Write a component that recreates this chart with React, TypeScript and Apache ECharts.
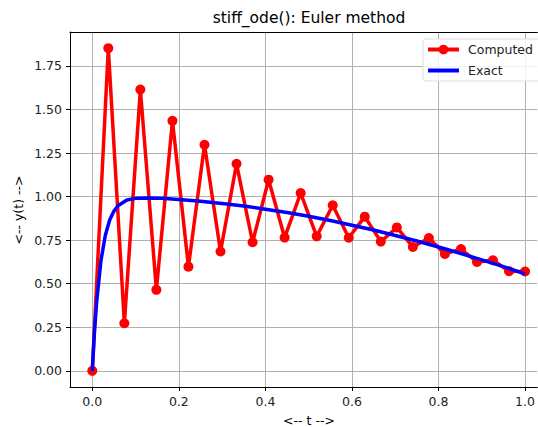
import React, { useEffect, useRef } from "react";
import * as echarts from "echarts";

const titleText = "stiff_ode(): Euler method";
const xLabel = "<-- t -->";
const yLabel = "<-- y(t) -->";
const xTicks = [0, 0.2, 0.4, 0.6, 0.8, 1.0];
const yTicks = [0, 0.25, 0.5, 0.75, 1.0, 1.25, 1.5, 1.75];

const tComputed = [
  0.0, 0.037, 0.0741, 0.1111, 0.1481, 0.1852, 0.2222, 0.2593, 0.2963, 0.3333,
  0.3704, 0.4074, 0.4444, 0.4815, 0.5185, 0.5556, 0.5926, 0.6296, 0.6667, 0.7037,
  0.7407, 0.7778, 0.8148, 0.8519, 0.8889, 0.9259, 0.963, 1.0,
];
const yComputed = [
  0.0, 1.852, 0.273, 1.614, 0.465, 1.435, 0.598, 1.297, 0.685, 1.188,
  0.738, 1.097, 0.765, 1.02, 0.772, 0.95, 0.764, 0.885, 0.742, 0.823,
  0.711, 0.762, 0.671, 0.699, 0.625, 0.635, 0.572, 0.57,
];

const tExact = [
  0, 0.005, 0.01, 0.02, 0.03, 0.04, 0.05, 0.06, 0.08, 0.1, 0.13, 0.16, 0.2,
  0.25, 0.3, 0.35, 0.4, 0.45, 0.5, 0.55, 0.6, 0.65, 0.7, 0.75, 0.8, 0.85, 0.9,
  0.95, 1.0,
];
const yExact = [
  0, 0.221, 0.393, 0.632, 0.777, 0.864, 0.917, 0.949, 0.98, 0.99, 0.992, 0.99,
  0.984, 0.973, 0.961, 0.946, 0.928, 0.909, 0.887, 0.863, 0.836, 0.808, 0.777,
  0.745, 0.711, 0.675, 0.637, 0.598, 0.557,
];

const FONT = "DejaVu Sans";
const X_MIN = -0.0515;
const X_MAX = 1.0284;

export default function App() {
  const ref = useRef<HTMLDivElement>(null);
  useEffect(() => {
    if (!ref.current) return;
    const chart = echarts.init(ref.current, null, { renderer: "svg" });
    chart.setOption({
      animation: false,
      backgroundColor: "#ffffff",
      textStyle: { fontFamily: FONT },
      grid: {
        left: 70,
        top: 32,
        right: 0,
        bottom: 40,
        show: false,
      },
      xAxis: [
        {
          type: "value",
          min: X_MIN,
          max: X_MAX,
          axisLine: { show: true, onZero: false, lineStyle: { color: "#000", width: 1 } },
          axisTick: {
            show: true,
            length: 4,
            inside: false,
            lineStyle: { color: "#000" },
            customValues: xTicks,
          },
          axisLabel: {
            color: "#222",
            fontSize: 12.5,
            fontFamily: FONT,
            margin: 8,
            customValues: xTicks,
            formatter: (v: number) => v.toFixed(1),
          },
          splitLine: { show: true, lineStyle: { color: "#b0b0b0", width: 1 } },
        },
        {
          type: "value",
          position: "top",
          min: X_MIN,
          max: X_MAX,
          axisLine: { show: true, onZero: false, lineStyle: { color: "#000", width: 1 } },
          axisTick: { show: false },
          axisLabel: { show: false },
          splitLine: { show: false },
        },
      ],
      yAxis: {
        type: "value",
        min: -0.0926,
        max: 1.9446,
        axisLine: { show: true, onZero: false, lineStyle: { color: "#000", width: 1 } },
        axisTick: {
          show: true,
          length: 4,
          inside: false,
          lineStyle: { color: "#000" },
          customValues: yTicks,
        },
        axisLabel: {
          color: "#222",
          fontSize: 12.5,
          fontFamily: FONT,
          margin: 8,
          customValues: yTicks,
          formatter: (v: number) => v.toFixed(2),
        },
        splitLine: { show: true, lineStyle: { color: "#b0b0b0", width: 1 } },
      },
      legend: {
        left: 423,
        top: 39,
        orient: "vertical",
        backgroundColor: "rgba(255,255,255,0.8)",
        borderColor: "#dddddd",
        borderWidth: 1,
        borderRadius: 3,
        padding: [4, 30, 4, 3],
        itemGap: 8,
        itemWidth: 31,
        itemHeight: 12,
        textStyle: { fontSize: 12.5, fontFamily: FONT, color: "#222", padding: [0, 0, 0, 4] },
        data: [
          { name: "Computed", lineStyle: { width: 4 } },
          { name: "Exact", itemStyle: { opacity: 0 }, lineStyle: { width: 4 } },
        ],
      },
      graphic: [
        {
          type: "text",
          x: 309,
          y: 18,
          style: {
            text: titleText,
            fontSize: 15.5,
            fontFamily: FONT,
            fill: "#000",
            textAlign: "center",
            textVerticalAlign: "middle",
          },
        },
        {
          type: "text",
          x: 309,
          y: 420,
          style: {
            text: xLabel,
            fontSize: 12.5,
            fontFamily: FONT,
            fill: "#000",
            textAlign: "center",
            textVerticalAlign: "middle",
          },
        },
        {
          type: "text",
          x: 18,
          y: 210,
          rotation: Math.PI / 2,
          style: {
            text: yLabel,
            fontSize: 12.5,
            fontFamily: FONT,
            fill: "#000",
            textAlign: "center",
            textVerticalAlign: "middle",
          },
        },
      ],
      series: [
        {
          name: "Computed",
          type: "line",
          xAxisIndex: 0,
          data: tComputed.map((t, i) => [t, yComputed[i]]),
          lineStyle: { color: "red", width: 3.5 },
          itemStyle: { color: "red" },
          symbol: "circle",
          symbolSize: 10,
          showAllSymbol: true,
          z: 2,
        },
        {
          name: "Exact",
          type: "line",
          xAxisIndex: 0,
          data: tExact.map((t, i) => [t, yExact[i]]),
          lineStyle: { color: "blue", width: 3.5 },
          itemStyle: { color: "blue" },
          symbol: "none",
          z: 3,
        },
      ],
    });
    return () => chart.dispose();
  }, []);
  return (
    <div
      ref={ref}
      style={{ position: "absolute", left: 0, top: 0, width: 538, height: 427 }}
    />
  );
}
